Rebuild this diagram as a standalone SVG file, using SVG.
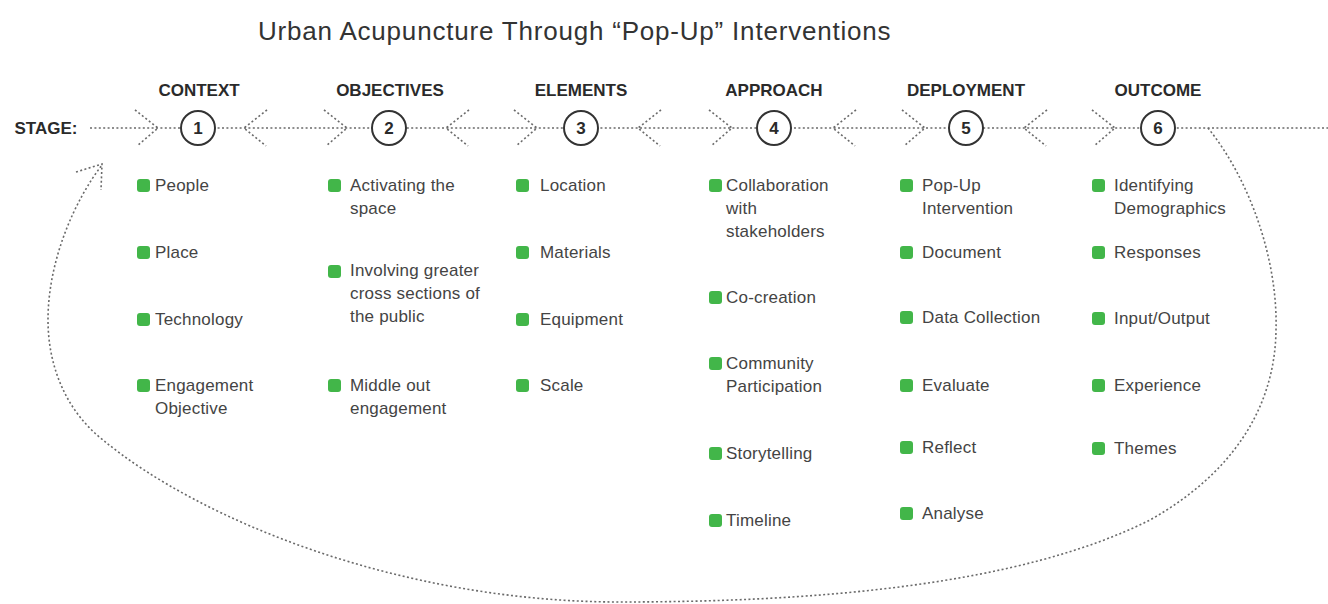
<svg xmlns="http://www.w3.org/2000/svg" width="1328" height="604" viewBox="0 0 1328 604">
<style>
.dot{fill:none;stroke:#6a6a6a;stroke-width:1.6;stroke-dasharray:2 2.4}
.title{font-family:"Liberation Sans",Arial,sans-serif;font-size:26px;fill:#333;letter-spacing:0.8px}
.hdr{font-family:"Liberation Sans",Arial,sans-serif;font-size:17px;font-weight:bold;fill:#2a2a2a;text-anchor:middle}
.num{font-family:"Liberation Sans",Arial,sans-serif;font-size:17px;font-weight:bold;fill:#2a2a2a;text-anchor:middle}
.ring{fill:#fff;stroke:#333;stroke-width:2}
.item{font-family:"Liberation Sans",Arial,sans-serif;font-size:17px;fill:#444;letter-spacing:0.2px}
.b{fill:#42b649}
</style>
<rect width="1328" height="604" fill="#fff"/>
<text class="title" x="258" y="40">Urban Acupuncture Through “Pop-Up” Interventions</text>
<text class="hdr" x="46" y="134">STAGE:</text>

<g id="connectors">
  <line class="dot" x1="90" y1="128" x2="1328" y2="128"/>
  <!-- right-pointing chevrons -->
  <polyline class="dot" points="135,110 158,128 137,146"/>
  <polyline class="dot" points="324,110 347,128 326,146"/>
  <polyline class="dot" points="514,110 537,128 516,146"/>
  <polyline class="dot" points="709,110 732,128 711,146"/>
  <polyline class="dot" points="902,110 925,128 904,146"/>
  <polyline class="dot" points="1092,110 1115,128 1094,146"/>
  <!-- left-pointing chevrons -->
  <polyline class="dot" points="267,110 244,128 266,146"/>
  <polyline class="dot" points="469,110 446,128 468,146"/>
  <polyline class="dot" points="661,110 638,128 660,146"/>
  <polyline class="dot" points="856,110 833,128 855,146"/>
  <polyline class="dot" points="1047,110 1024,128 1046,146"/>
  <!-- return loop -->
  <path class="dot" d="M1208,128 C1250,180 1278,260 1276,330 C1275,410 1230,475 1150,520 C1020,585 820,602 620,602 C400,602 200,520 103,440 C65,410 48,365 48,320 C48,260 75,200 102,165"/>
  <polyline class="dot" points="76,172 102,164 101,190"/>
</g>

<g id="stage1">
  <text class="hdr" x="199" y="96">CONTEXT</text>
  <circle class="ring" cx="198" cy="128" r="17"/>
  <text class="num" x="198" y="134">1</text>
  <rect class="b" x="137" y="179" width="13" height="13" rx="3"/><text class="item" x="155" y="191">People</text>
  <rect class="b" x="137" y="246" width="13" height="13" rx="3"/><text class="item" x="155" y="258">Place</text>
  <rect class="b" x="137" y="313" width="13" height="13" rx="3"/><text class="item" x="155" y="325">Technology</text>
  <rect class="b" x="137" y="379" width="13" height="13" rx="3"/><text class="item" x="155" y="391">Engagement<tspan x="155" dy="23">Objective</tspan></text>
</g>

<g id="stage2">
  <text class="hdr" x="390" y="96">OBJECTIVES</text>
  <circle class="ring" cx="389" cy="128" r="17"/>
  <text class="num" x="389" y="134">2</text>
  <rect class="b" x="328" y="179" width="13" height="13" rx="3"/><text class="item" x="350" y="191">Activating the<tspan x="350" dy="23">space</tspan></text>
  <rect class="b" x="328" y="265" width="13" height="13" rx="3"/><text class="item" x="350" y="276">Involving greater<tspan x="350" dy="23">cross sections of</tspan><tspan x="350" dy="23">the public</tspan></text>
  <rect class="b" x="328" y="379" width="13" height="13" rx="3"/><text class="item" x="350" y="391">Middle out<tspan x="350" dy="23">engagement</tspan></text>
</g>

<g id="stage3">
  <text class="hdr" x="581" y="96">ELEMENTS</text>
  <circle class="ring" cx="581" cy="128" r="17"/>
  <text class="num" x="581" y="134">3</text>
  <rect class="b" x="516" y="179" width="13" height="13" rx="3"/><text class="item" x="540" y="191">Location</text>
  <rect class="b" x="516" y="246" width="13" height="13" rx="3"/><text class="item" x="540" y="258">Materials</text>
  <rect class="b" x="516" y="313" width="13" height="13" rx="3"/><text class="item" x="540" y="325">Equipment</text>
  <rect class="b" x="516" y="379" width="13" height="13" rx="3"/><text class="item" x="540" y="391">Scale</text>
</g>

<g id="stage4">
  <text class="hdr" x="774" y="96">APPROACH</text>
  <circle class="ring" cx="774" cy="128" r="17"/>
  <text class="num" x="774" y="134">4</text>
  <rect class="b" x="709" y="179" width="13" height="13" rx="3"/><text class="item" x="726" y="191">Collaboration<tspan x="726" dy="23">with</tspan><tspan x="726" dy="23">stakeholders</tspan></text>
  <rect class="b" x="709" y="291" width="13" height="13" rx="3"/><text class="item" x="726" y="303">Co-creation</text>
  <rect class="b" x="709" y="357" width="13" height="13" rx="3"/><text class="item" x="726" y="369">Community<tspan x="726" dy="23">Participation</tspan></text>
  <rect class="b" x="709" y="447" width="13" height="13" rx="3"/><text class="item" x="726" y="459">Storytelling</text>
  <rect class="b" x="709" y="514" width="13" height="13" rx="3"/><text class="item" x="726" y="526">Timeline</text>
</g>

<g id="stage5">
  <text class="hdr" x="966" y="96">DEPLOYMENT</text>
  <circle class="ring" cx="966" cy="128" r="17"/>
  <text class="num" x="966" y="134">5</text>
  <rect class="b" x="900" y="179" width="13" height="13" rx="3"/><text class="item" x="922" y="191">Pop-Up<tspan x="922" dy="23">Intervention</tspan></text>
  <rect class="b" x="900" y="246" width="13" height="13" rx="3"/><text class="item" x="922" y="258">Document</text>
  <rect class="b" x="900" y="311" width="13" height="13" rx="3"/><text class="item" x="922" y="323">Data Collection</text>
  <rect class="b" x="900" y="379" width="13" height="13" rx="3"/><text class="item" x="922" y="391">Evaluate</text>
  <rect class="b" x="900" y="441" width="13" height="13" rx="3"/><text class="item" x="922" y="453">Reflect</text>
  <rect class="b" x="900" y="507" width="13" height="13" rx="3"/><text class="item" x="922" y="519">Analyse</text>
</g>

<g id="stage6">
  <text class="hdr" x="1158" y="96">OUTCOME</text>
  <circle class="ring" cx="1158" cy="128" r="17"/>
  <text class="num" x="1158" y="134">6</text>
  <rect class="b" x="1092" y="179" width="13" height="13" rx="3"/><text class="item" x="1114" y="191">Identifying<tspan x="1114" dy="23">Demographics</tspan></text>
  <rect class="b" x="1092" y="246" width="13" height="13" rx="3"/><text class="item" x="1114" y="258">Responses</text>
  <rect class="b" x="1092" y="312" width="13" height="13" rx="3"/><text class="item" x="1114" y="324">Input/Output</text>
  <rect class="b" x="1092" y="379" width="13" height="13" rx="3"/><text class="item" x="1114" y="391">Experience</text>
  <rect class="b" x="1092" y="442" width="13" height="13" rx="3"/><text class="item" x="1114" y="454">Themes</text>
</g>
</svg>
